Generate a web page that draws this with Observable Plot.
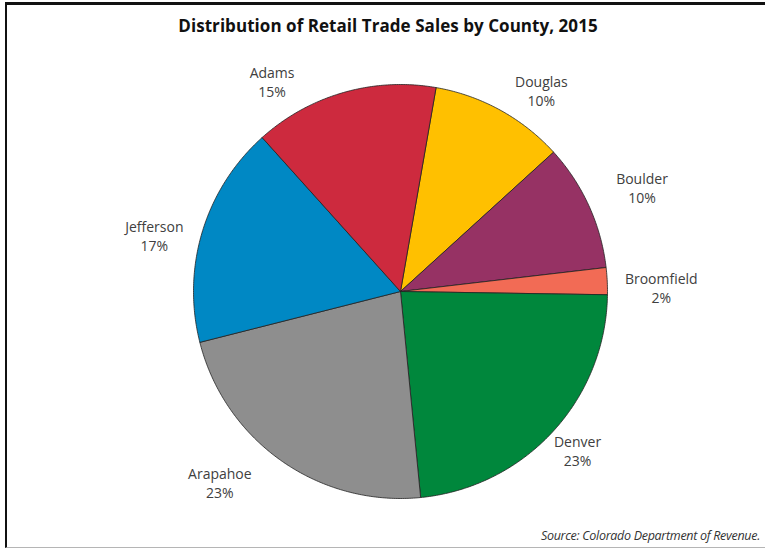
<!DOCTYPE html>
<html>
<head>
<meta charset="utf-8">
<script src="https://cdn.jsdelivr.net/npm/d3@7"></script>
<script src="https://cdn.jsdelivr.net/npm/@observablehq/plot@0.6"></script>
<style>
  html, body { margin: 0; padding: 0; background: #fff; }
  #wrap { position: relative; width: 765px; height: 550px; overflow: hidden; font-family: "Open Sans", "Noto Sans", sans-serif; }
  #frame { position: absolute; left: 5px; top: 2px; width: 760px; height: 546px; border-top: 3px solid #111; border-left: 2px solid #111; border-bottom: 1px solid #b5b5b5; box-sizing: border-box; }
  #title { position: absolute; left: 0; width: 776px; top: 14px; text-align: center; font-weight: 700; font-size: 17px; color: #111; letter-spacing: 0.05px; }
  #source { position: absolute; right: 5px; top: 527px; font-style: italic; font-size: 12.5px; color: #333; letter-spacing: -0.3px; }
  #chart { position: absolute; left: 0; top: 0; }
</style>
</head>
<body>
<div id="wrap">
  <div id="frame"></div>
  <div id="chart"></div>
  <div id="title">Distribution of Retail Trade Sales by County, 2015</div>
  <div id="source">Source: Colorado Department of Revenue.</div>
</div>
<script>
// Data (clockwise from the first slice)
const counties = ["Douglas", "Boulder", "Broomfield", "Denver", "Arapahoe", "Jefferson", "Adams"];
const shares = [10.5, 9.9, 2.1, 23.2, 22.6, 17.3, 14.4];
const shareLabels = ["10%", "10%", "2%", "23%", "23%", "17%", "15%"];

// Styling / layout
const colors = ["#FFC000", "#963264", "#F26B55", "#00873C", "#8E8E8E", "#0088C4", "#CD2A3E"];
const startDeg = 9.9;
const labelTurn = [6.25, 1.2, 1.9, -0.7, 8.3, -4, -15.4];     // degrees, relative to slice mid-angle
const labelRadius = [1.185, 1.27, 1.26, 1.15, 1.27, 1.22, 1.19]; // in pie radii

const rad = Math.PI / 180;
const pie = d3.pie().sort(null).value(d => d)
  .startAngle(startDeg * rad).endAngle(startDeg * rad + 2 * Math.PI);
const arcs = pie(shares);

// Slice outlines as polygons in unit coordinates
const slicePts = [];
arcs.forEach((a, i) => {
  const c = counties[i];
  slicePts.push({county: c, x: 0, y: 0});
  const n = Math.max(2, Math.ceil((a.endAngle - a.startAngle) / (0.5 * rad)));
  for (let k = 0; k <= n; k++) {
    const t = a.startAngle + (a.endAngle - a.startAngle) * k / n;
    slicePts.push({county: c, x: Math.sin(t), y: Math.cos(t)});
  }
  slicePts.push({county: c, x: 0, y: 0});
});

const labelData = arcs.map((a, i) => {
  const m = (a.startAngle + a.endAngle) / 2 + labelTurn[i] * rad;
  return {county: counties[i], text: counties[i] + "\n" + shareLabels[i],
          x: labelRadius[i] * Math.sin(m), y: labelRadius[i] * Math.cos(m)};
});

const chart = Plot.plot({
  width: 765,
  height: 550,
  marginLeft: 193,
  marginRight: 158,
  marginTop: 84,
  marginBottom: 52,
  x: {domain: [-1, 1], axis: null},
  y: {domain: [-1, 1], axis: null},
  color: {domain: counties, range: colors},
  style: {background: "transparent", fontFamily: "'Open Sans', 'Noto Sans', sans-serif"},
  marks: [
    Plot.line(slicePts, {x: "x", y: "y", z: "county", fill: "county", stroke: "#222", strokeWidth: 0.8, curve: "linear"}),
    Plot.text(labelData, {x: "x", y: "y", text: "text", fontSize: 14, lineHeight: 1.35, fill: "#404040", textAnchor: "middle"})
  ]
});
document.getElementById("chart").appendChild(chart);
</script>
</body>
</html>
